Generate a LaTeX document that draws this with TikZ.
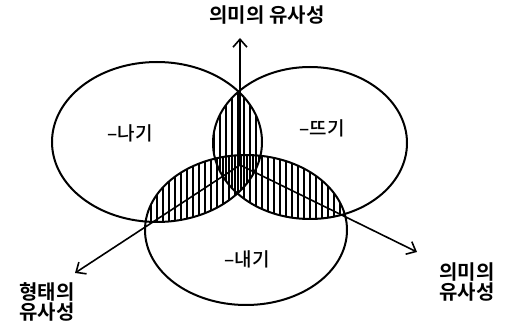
\documentclass[tikz,border=0pt]{standalone}
\usepackage{fontspec}
\newfontfamily\kor{Noto Sans CJK KR Medium}
\newfontfamily\korb{Noto Sans CJK KR Bold}
\usetikzlibrary{arrows.meta, positioning}

\begin{document}
\begin{tikzpicture}[x=1pt,y=-1pt,line width=2pt,
  axis/.style={line width=1.6pt,-{Straight Barb[length=8pt,width=14pt,line width=1.6pt]}},
  hatch/.style={line width=1.6pt},
  setlabel/.style={font=\kor\fontsize{19}{19}\selectfont},
  axislabel/.style={font=\korb\fontsize{20}{18}\selectfont,align=center,inner sep=0pt}]
\useasboundingbox (0,0) rectangle (507,326);
\coordinate (cL) at (157,142);
\coordinate (cR) at (310,143);
\coordinate (cB) at (246,230);
\coordinate (O) at (240,165);
\begin{scope}
\clip (cL) ellipse [x radius=105pt, y radius=80pt];
\clip (cR) ellipse [x radius=97pt, y radius=76pt];
\foreach \x in {130,136,...,350} \draw[hatch] (\x,40) -- (\x,320);
\end{scope}
\begin{scope}
\clip (cL) ellipse [x radius=105pt, y radius=80pt];
\clip (cB) ellipse [x radius=101pt, y radius=75pt];
\foreach \x in {133,139,...,350} \draw[hatch] (\x,40) -- (\x,320);
\end{scope}
\begin{scope}
\clip (cR) ellipse [x radius=97pt, y radius=76pt];
\clip (cB) ellipse [x radius=101pt, y radius=75pt];
\foreach \x in {130,136,...,360} \draw[hatch] (\x,40) -- (\x,320);
\end{scope}
\draw (cL) ellipse [x radius=105pt, y radius=80pt];
\draw (cR) ellipse [x radius=97pt, y radius=76pt];
\draw (cB) ellipse [x radius=101pt, y radius=75pt];
\node[setlabel] (na) at (130,133) {–나기};
\node[setlabel] (tt) at (322,128) {–뜨기};
\node[setlabel] (ne) at (247,259) {–내기};
\node[axislabel] (top) at (267,15) {의미의 유사성};
\node[axislabel] (form) at (47,302) {형태의\\유사성};
\node[axislabel] (mean) at (467,282) {의미의\\유사성};
\coordinate (tipT) at (240,38);
\coordinate (tipL) at (75,273);
\coordinate (tipR) at (417,252);
\draw[axis] (O) -- (tipT);
\draw[axis] (O) -- (tipL);
\draw[axis] (O) -- (tipR);
\end{tikzpicture}
\end{document}
